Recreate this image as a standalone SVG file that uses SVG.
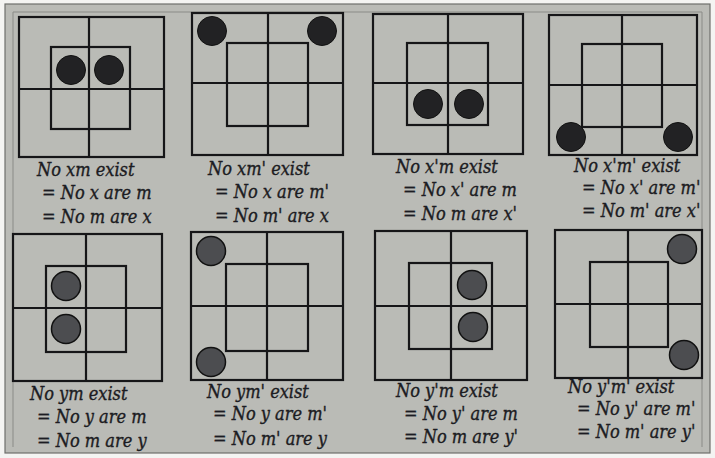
<svg xmlns="http://www.w3.org/2000/svg" width="715" height="458" viewBox="0 0 715 458">
<style>
.ln{fill:none;stroke:#161618;stroke-width:2.2}
.dA{fill:#222224;stroke:#111;stroke-width:1}
.dB{fill:#4c4d50;stroke:#111;stroke-width:1.5}
text{font-family:"DejaVu Serif Condensed","DejaVu Serif",serif;font-stretch:condensed;font-style:italic;font-size:18px;fill:#1c1c22;stroke:#1c1c22;stroke-width:0.35}
</style>
<rect x="0" y="0" width="715" height="458" fill="#f4f4f2"/>
<rect x="5" y="4" width="705" height="449" fill="#babbb6" stroke="#6e6f6c" stroke-width="1.2"/>
<path d="M13 447 V12 H702 V447" fill="none" stroke="#8a8b87" stroke-width="1"/>

<g id="p1">
<rect class="ln" x="19" y="17" width="145" height="140"/>
<path class="ln" d="M89 17 V157 M19 89 H164"/>
<rect class="ln" x="51" y="47" width="79" height="82"/>
<circle class="dA" cx="71" cy="70" r="14.5"/><circle class="dA" cx="109" cy="70" r="14.5"/>
<text x="37" y="176">No xm exist</text>
<text x="42" y="199">= No x are m</text>
<text x="42" y="223">= No m are x</text>
</g>

<g id="p2">
<rect class="ln" x="192" y="13" width="151" height="142"/>
<path class="ln" d="M268 13 V155 M192 83 H343"/>
<rect class="ln" x="227" y="43" width="81" height="83"/>
<circle class="dA" cx="212" cy="31" r="14.5"/><circle class="dA" cx="322" cy="31" r="14.5"/>
<text x="208" y="175">No xm' exist</text>
<text x="215" y="198">= No x are m'</text>
<text x="215" y="222">= No m' are x</text>
</g>

<g id="p3">
<rect class="ln" x="373" y="14" width="150" height="140"/>
<path class="ln" d="M448 14 V154 M373 83 H523"/>
<rect class="ln" x="407" y="43" width="81" height="82"/>
<circle class="dA" cx="428" cy="104" r="14.5"/><circle class="dA" cx="469" cy="104" r="14.5"/>
<text x="396" y="173">No x'm exist</text>
<text x="403" y="196">= No x' are m</text>
<text x="403" y="220">= No m are x'</text>
</g>

<g id="p4">
<rect class="ln" x="549" y="15" width="148" height="140"/>
<path class="ln" d="M622 15 V155 M549 85 H697"/>
<rect class="ln" x="582" y="44" width="80" height="83"/>
<circle class="dA" cx="571" cy="137" r="14.5"/><circle class="dA" cx="678" cy="137" r="14.5"/>
<text x="574" y="172">No x'm' exist</text>
<text x="582" y="194">= No x' are m'</text>
<text x="582" y="217">= No m' are x'</text>
</g>

<g id="p5">
<rect class="ln" x="13" y="234" width="149" height="147"/>
<path class="ln" d="M86 234 V381 M13 308 H162"/>
<rect class="ln" x="46" y="266" width="80" height="86"/>
<circle class="dB" cx="66" cy="286" r="14.5"/><circle class="dB" cx="66" cy="329" r="14.5"/>
<text x="30" y="400">No ym exist</text>
<text x="37" y="423">= No y are m</text>
<text x="37" y="447">= No m are y</text>
</g>

<g id="p6">
<rect class="ln" x="191" y="232" width="152" height="148"/>
<path class="ln" d="M267 232 V380 M191 306 H343"/>
<rect class="ln" x="226" y="264" width="82" height="87"/>
<circle class="dB" cx="211" cy="251" r="14.5"/><circle class="dB" cx="211" cy="362" r="14.5"/>
<text x="207" y="398">No ym' exist</text>
<text x="213" y="420">= No y are m'</text>
<text x="213" y="445">= No m' are y</text>
</g>

<g id="p7">
<rect class="ln" x="375" y="231" width="152" height="149"/>
<path class="ln" d="M451 231 V380 M375 306 H527"/>
<rect class="ln" x="409" y="263" width="83" height="86"/>
<circle class="dB" cx="472" cy="285" r="14.5"/><circle class="dB" cx="473" cy="327" r="14.5"/>
<text x="396" y="397">No y'm exist</text>
<text x="404" y="420">= No y' are m</text>
<text x="404" y="443">= No m are y'</text>
</g>

<g id="p8">
<rect class="ln" x="555" y="230" width="147" height="148"/>
<path class="ln" d="M628 230 V378 M555 304 H702"/>
<rect class="ln" x="590" y="262" width="78" height="85"/>
<circle class="dB" cx="682" cy="249" r="14.5"/><circle class="dB" cx="684" cy="355" r="14.5"/>
<text x="568" y="393">No y'm' exist</text>
<text x="577" y="415">= No y' are m'</text>
<text x="577" y="438">= No m' are y'</text>
</g>
</svg>
